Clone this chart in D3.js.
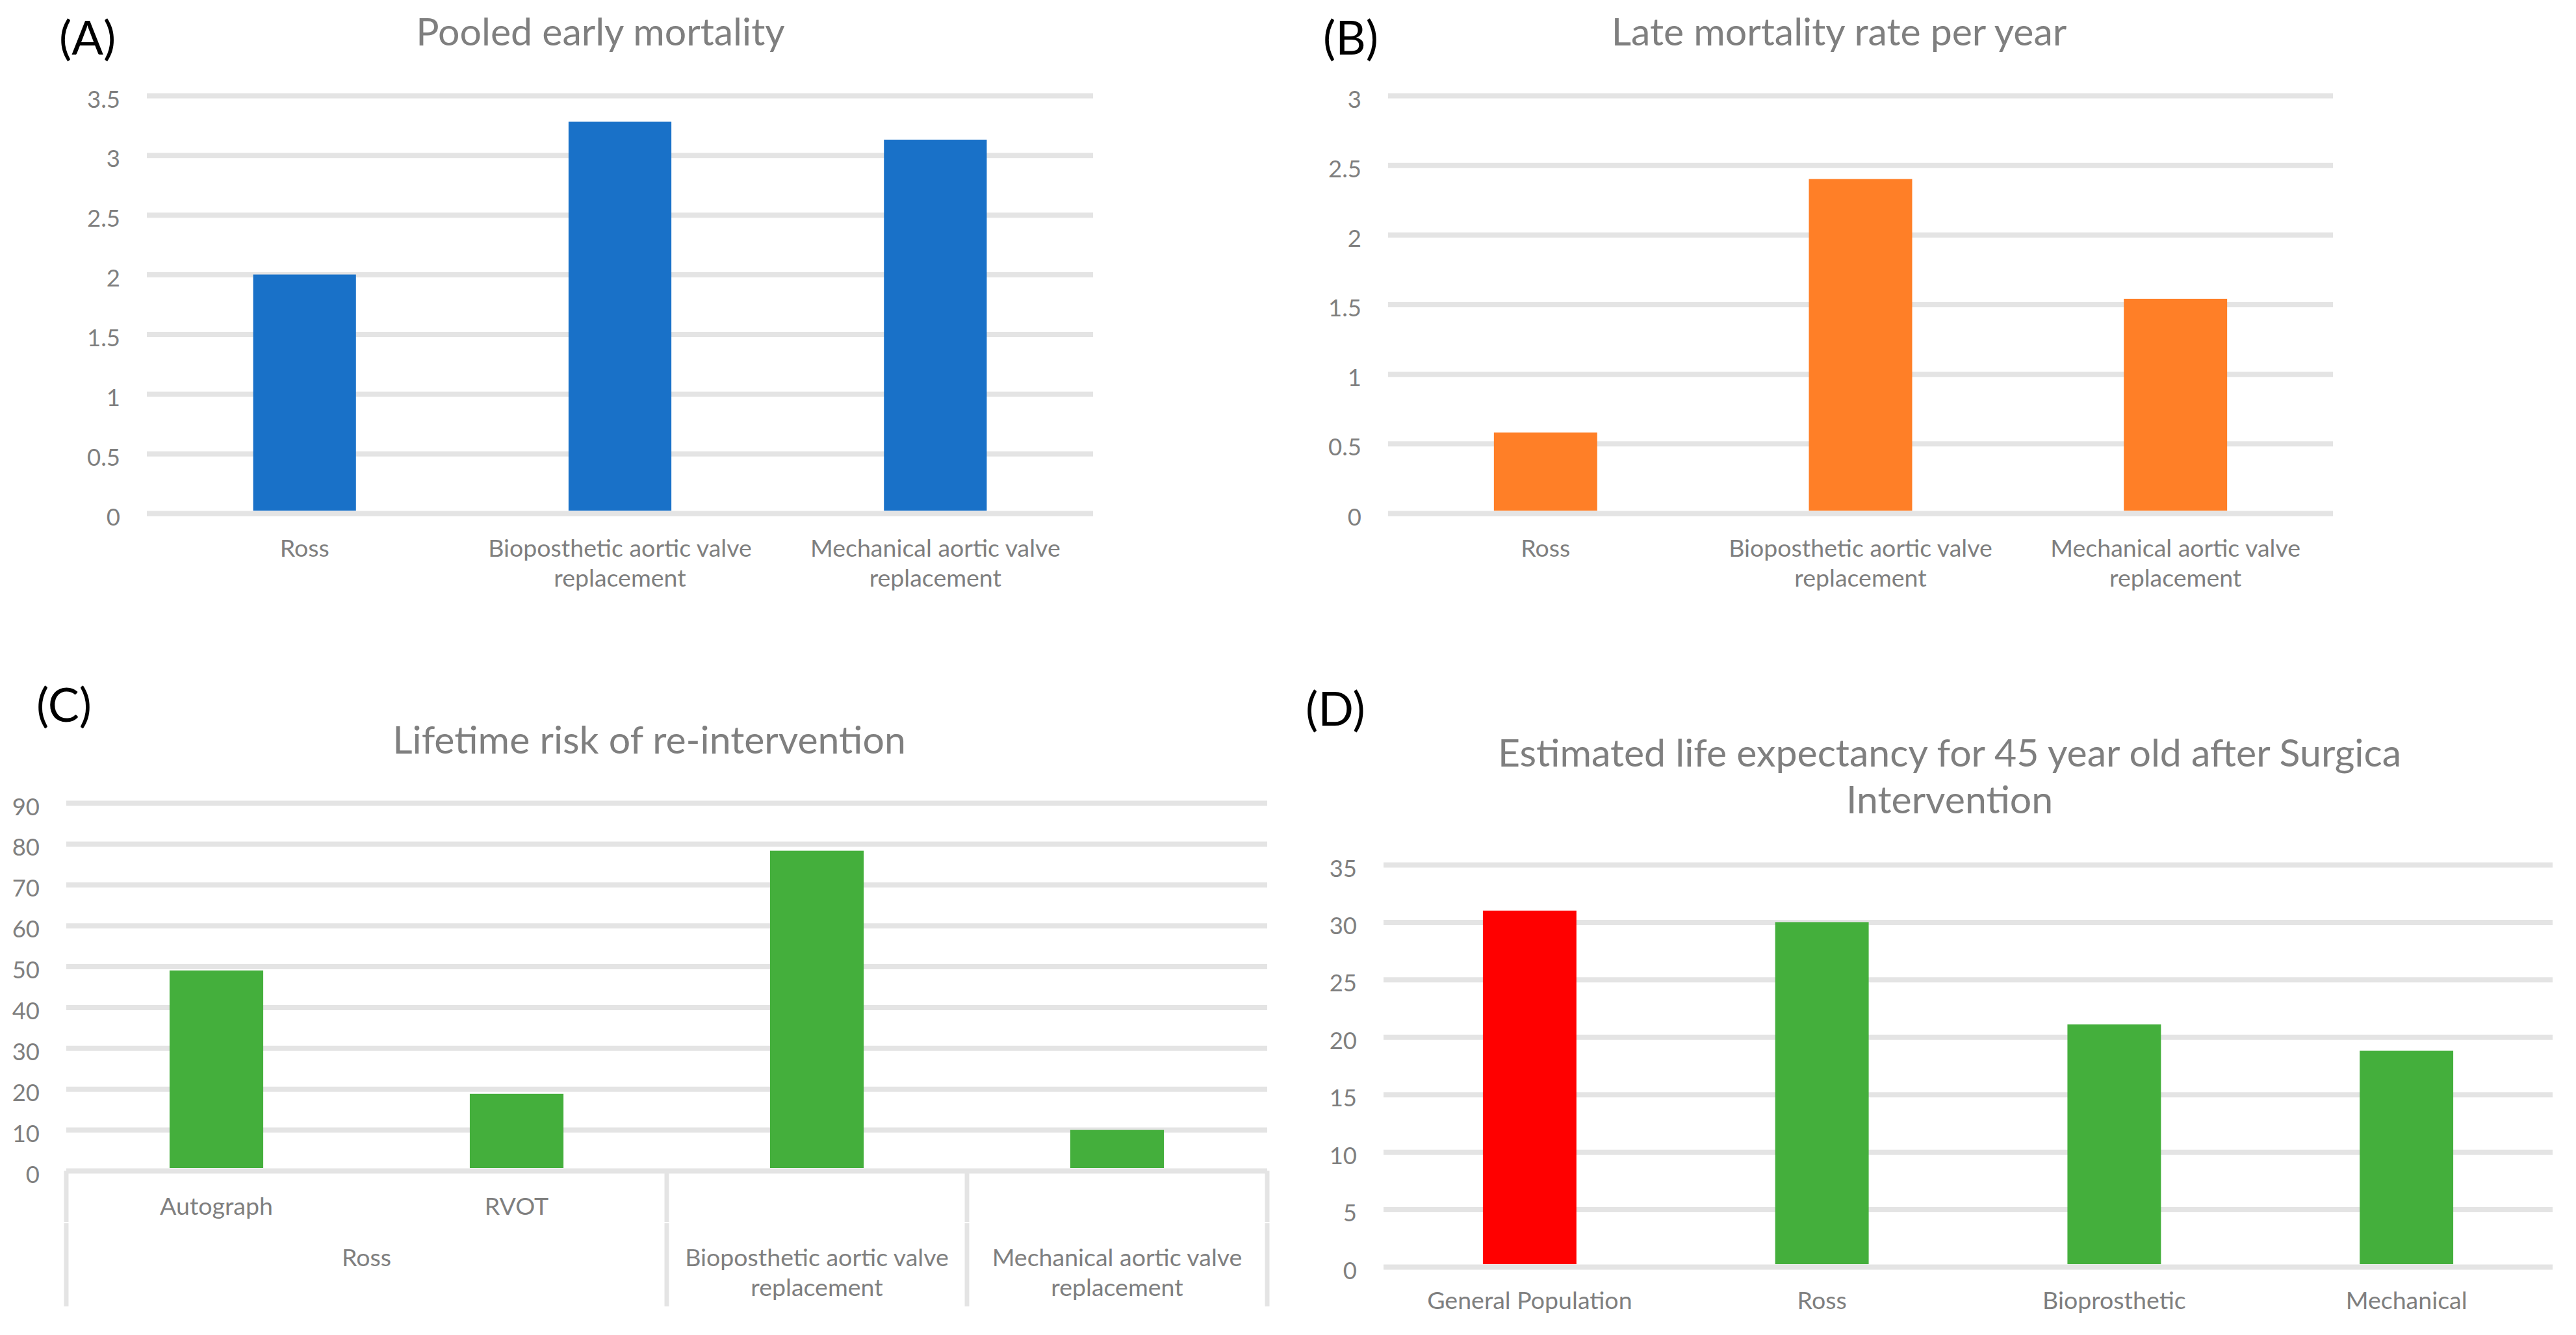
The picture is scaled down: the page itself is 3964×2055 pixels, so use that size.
<!DOCTYPE html>
<html>
<head>
<meta charset="utf-8">
<script src="https://cdn.jsdelivr.net/npm/d3@7"></script>
<style>
  body { margin: 0; background: #fff; }
  text { font-family: Lato, "Open Sans", sans-serif; }
</style>
</head>
<body>
<svg id="chart" width="3964" height="2055"></svg>
<script>
// (A) pooled early mortality
const earlyCats = ['Ross', 'Bioposthetic aortic valve replacement', 'Mechanical aortic valve replacement'];
const earlyMortality = [2.0, 3.28, 3.13];
const earlyTicks = [0, 0.5, 1, 1.5, 2, 2.5, 3, 3.5];

// (B) late mortality rate per year
const lateCats = ['Ross', 'Bioposthetic aortic valve replacement', 'Mechanical aortic valve replacement'];
const lateMortality = [0.58, 2.40, 1.54];
const lateTicks = [0, 0.5, 1, 1.5, 2, 2.5, 3];

// (C) lifetime risk of re-intervention, two-level categories
const reintCats = ['Autograph', 'RVOT', '', ''];
const reintGroups = ['Ross', 'Ross', 'Bioposthetic aortic valve replacement', 'Mechanical aortic valve replacement'];
const reintRisk = [49, 18.8, 78.3, 10];
const reintTicks = [0, 10, 20, 30, 40, 50, 60, 70, 80, 90];

// (D) estimated life expectancy for 45 year old
const lifeCats = ['General Population', 'Ross', 'Bioprosthetic', 'Mechanical'];
const lifeYears = [31, 30, 21.1, 18.8];
const lifeTicks = [0, 5, 10, 15, 20, 25, 30, 35];

const titles = {
  A: ['Pooled early mortality'],
  B: ['Late mortality rate per year'],
  C: ['Lifetime risk of re-intervention'],
  D: ['Estimated life expectancy for 45 year old after Surgica', 'Intervention']
};

const BLUE = '#1971c8', ORANGE = '#ff7f27', GREEN = '#44af3c', RED = '#ff0000';
const GRID = '#e4e4e4', TEXT = '#7f7f7f';

const svg = d3.select('#chart');

function wrap(sel, width, lineHeight) {
  sel.each(function () {
    const text = d3.select(this);
    const words = text.text().split(/\s+/).filter(w => w);
    const x = text.attr('x');
    text.text(null);
    let line = [];
    let tspan = text.append('tspan').attr('x', x).attr('dy', 0);
    words.forEach(w => {
      line.push(w);
      tspan.text(line.join(' '));
      if (tspan.node().getComputedTextLength() > width && line.length > 1) {
        line.pop();
        tspan.text(line.join(' '));
        line = [w];
        tspan = text.append('tspan').attr('x', x).attr('dy', lineHeight).text(w);
      }
    });
  });
}

function drawPanel(p) {
  const g = svg.append('g');

  g.append('text')
    .attr('x', p.letterX).attr('y', p.letterY)
    .attr('font-size', 72).attr('fill', '#000')
    .text(p.letter);

  const t = g.append('text')
    .attr('x', p.titleX).attr('y', p.titleY)
    .attr('text-anchor', 'middle').attr('font-size', 59).attr('fill', TEXT);
  p.title.forEach((line, i) => {
    t.append('tspan').attr('x', p.titleX).attr('dy', i ? 72 : 0).text(line);
  });

  const x = d3.scaleBand()
    .domain(d3.range(p.values.length))
    .range([p.x0, p.x1])
    .paddingInner(p.pad)
    .paddingOuter(p.pad / 2);

  const y = d3.scaleLinear()
    .domain([0, p.max])
    .range([p.y0, p.yTop]);

  const yAxis = g.append('g')
    .attr('transform', `translate(${p.x0},0)`)
    .call(d3.axisLeft(y)
      .tickValues(p.ticks)
      .tickSize(-(p.x1 - p.x0))
      .tickPadding(41)
      .tickFormat(d => String(d)));
  yAxis.select('.domain').remove();
  yAxis.selectAll('line').attr('stroke', GRID).attr('stroke-width', 8);
  yAxis.selectAll('text')
    .attr('fill', TEXT).attr('font-size', 36.5).attr('dy', 18);

  g.selectAll('rect.bar')
    .data(p.values)
    .join('rect')
    .attr('class', 'bar')
    .attr('x', (d, i) => x(i))
    .attr('width', x.bandwidth())
    .attr('y', d => y(d))
    .attr('height', d => y(0) - y(d) - 4)
    .attr('fill', (d, i) => p.colors[i]);

  g.selectAll('text.cat')
    .data(p.cats)
    .join('text')
    .attr('class', 'cat')
    .attr('x', (d, i) => x(i) + x.bandwidth() / 2)
    .attr('y', p.labelY)
    .attr('text-anchor', 'middle')
    .attr('font-size', 37.5)
    .attr('fill', TEXT)
    .text(d => d)
    .call(wrap, x.step() * 0.95, 46);

  if (p.groups) {
    // outer level of the category axis
    const spans = [];
    p.groups.forEach((name, i) => {
      const last = spans[spans.length - 1];
      if (last && last.name === name) last.end = i + 1;
      else spans.push({ name, start: i, end: i + 1 });
    });
    const edge = i => p.x0 + i * x.step();
    const cuts = spans.map(s => edge(s.start)).concat([edge(spans[spans.length - 1].end)]);

    cuts.forEach(cx => {
      g.append('line')
        .attr('x1', cx).attr('x2', cx)
        .attr('y1', p.y0).attr('y2', p.levelSplit - 1)
        .attr('stroke', GRID).attr('stroke-width', 7);
      g.append('line')
        .attr('x1', cx).attr('x2', cx)
        .attr('y1', p.levelSplit + 1).attr('y2', p.axisBottom)
        .attr('stroke', GRID).attr('stroke-width', 7);
    });

    g.selectAll('text.group')
      .data(spans)
      .join('text')
      .attr('class', 'group')
      .attr('x', s => (edge(s.start) + edge(s.end)) / 2)
      .attr('y', p.groupY)
      .attr('text-anchor', 'middle')
      .attr('font-size', 37.5)
      .attr('fill', TEXT)
      .text(s => s.name)
      .call(wrap, x.step() * 0.97, 46);
  }
}

drawPanel({
  letter: '(A)', letterX: 91, letterY: 84,
  title: titles.A, titleX: 924, titleY: 70,
  x0: 226, x1: 1682, y0: 790, yTop: 147, max: 3.5, ticks: earlyTicks,
  pad: 0.674, values: earlyMortality, cats: earlyCats,
  colors: earlyMortality.map(() => BLUE), labelY: 857
});

drawPanel({
  letter: '(B)', letterX: 2036, letterY: 84,
  title: titles.B, titleX: 2830, titleY: 70,
  x0: 2136, x1: 3590, y0: 790, yTop: 147, max: 3, ticks: lateTicks,
  pad: 0.672, values: lateMortality, cats: lateCats,
  colors: lateMortality.map(() => ORANGE), labelY: 857
});

drawPanel({
  letter: '(C)', letterX: 56, letterY: 1111,
  title: titles.C, titleX: 999, titleY: 1160,
  x0: 102, x1: 1950, y0: 1802, yTop: 1236, max: 90, ticks: reintTicks,
  pad: 0.688, values: reintRisk, cats: reintCats,
  colors: reintRisk.map(() => GREEN), labelY: 1870,
  groups: reintGroups, groupY: 1949, levelSplit: 1882, axisBottom: 2011
});

drawPanel({
  letter: '(D)', letterX: 2009, letterY: 1117,
  title: titles.D, titleX: 3000, titleY: 1180,
  x0: 2129, x1: 3928, y0: 1950, yTop: 1331, max: 35, ticks: lifeTicks,
  pad: 0.68, values: lifeYears, cats: lifeCats,
  colors: [RED, GREEN, GREEN, GREEN], labelY: 2015
});
</script>
</body>
</html>
